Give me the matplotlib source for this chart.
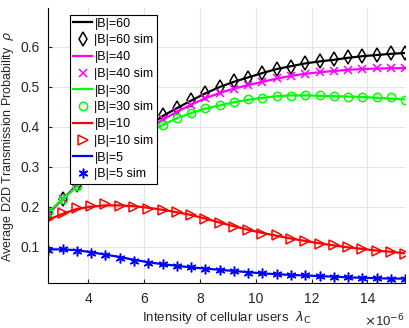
"""
Average D2D transmission probability vs. intensity of cellular users,
analytical curves and simulation markers for several |B|.
"""

import matplotlib
matplotlib.use('Agg')
import matplotlib.pyplot as plt

plt.rcParams['font.family'] = ['Liberation Sans', 'DejaVu Sans']
plt.rcParams['mathtext.fontset'] = 'dejavusans'

TICK_FONT_SIZE = 10
LABEL_FONT_SIZE = 9.5
LEGEND_FONT_SIZE = 9

# Intensity of cellular users (x 1e-6)
lam_c = [2.56, 3.072, 3.584, 4.096, 4.608, 5.12, 5.632, 6.144, 6.656, 7.168,
         7.68, 8.192, 8.704, 9.216, 9.728, 10.24, 10.752, 11.264, 11.776, 12.288,
         12.8, 13.312, 13.824, 14.336, 14.848, 15.36]

# |B| = 60
rho_b60 = [0.183, 0.218, 0.254, 0.287, 0.318, 0.347, 0.375, 0.401, 0.426, 0.446,
           0.465, 0.483, 0.499, 0.512, 0.523, 0.534, 0.544, 0.551, 0.558, 0.563,
           0.567, 0.572, 0.576, 0.579, 0.582, 0.584]
rho_b60_sim = [0.183, 0.219, 0.255, 0.288, 0.319, 0.348, 0.376, 0.402, 0.428, 0.447,
               0.466, 0.484, 0.499, 0.513, 0.522, 0.534, 0.544, 0.550, 0.558, 0.563,
               0.568, 0.573, 0.577, 0.580, 0.583, 0.584]

# |B| = 40
rho_b40 = [0.184, 0.217, 0.252, 0.285, 0.315, 0.343, 0.369, 0.394, 0.417, 0.437,
           0.455, 0.471, 0.484, 0.495, 0.504, 0.512, 0.520, 0.527, 0.532, 0.536,
           0.539, 0.542, 0.544, 0.545, 0.546, 0.546]
rho_b40_sim = [0.184, 0.218, 0.252, 0.285, 0.315, 0.343, 0.369, 0.394, 0.418, 0.437,
               0.455, 0.471, 0.484, 0.495, 0.504, 0.512, 0.521, 0.527, 0.532, 0.537,
               0.539, 0.542, 0.543, 0.546, 0.546, 0.546]

# |B| = 30
rho_b30 = [0.187, 0.218, 0.250, 0.280, 0.308, 0.334, 0.359, 0.382, 0.404, 0.421,
           0.434, 0.445, 0.453, 0.461, 0.467, 0.472, 0.476, 0.478, 0.478, 0.477,
           0.476, 0.475, 0.474, 0.472, 0.470, 0.468]
rho_b30_sim = [0.187, 0.218, 0.251, 0.280, 0.308, 0.334, 0.359, 0.382, 0.404, 0.422,
               0.435, 0.446, 0.454, 0.462, 0.468, 0.471, 0.477, 0.477, 0.479, 0.478,
               0.477, 0.475, 0.475, 0.475, 0.473, 0.466]

# |B| = 10
rho_b10 = [0.167, 0.182, 0.194, 0.200, 0.203, 0.203, 0.201, 0.197, 0.192, 0.186,
           0.179, 0.170, 0.160, 0.151, 0.142, 0.134, 0.127, 0.120, 0.114, 0.108,
           0.103, 0.098, 0.094, 0.090, 0.087, 0.083]
rho_b10_sim = [0.169, 0.183, 0.197, 0.201, 0.206, 0.202, 0.200, 0.195, 0.191, 0.186,
               0.178, 0.169, 0.158, 0.150, 0.141, 0.132, 0.128, 0.119, 0.114, 0.107,
               0.103, 0.099, 0.093, 0.089, 0.086, 0.082]

# |B| = 5
rho_b5 = [0.093, 0.093, 0.091, 0.086, 0.080, 0.074, 0.067, 0.061, 0.056, 0.052,
          0.048, 0.045, 0.042, 0.039, 0.036, 0.033, 0.031, 0.029, 0.028, 0.026,
          0.025, 0.023, 0.022, 0.021, 0.020, 0.020]
rho_b5_sim = [0.092, 0.093, 0.090, 0.083, 0.078, 0.072, 0.065, 0.060, 0.056, 0.052,
              0.049, 0.045, 0.042, 0.039, 0.035, 0.033, 0.031, 0.029, 0.028, 0.026,
              0.025, 0.023, 0.021, 0.021, 0.020, 0.020]

# label, analytic, simulation, colour, marker, marker size
series = [
    ('|B|=60', rho_b60, rho_b60_sim, 'black', 'd', 7),
    ('|B|=40', rho_b40, rho_b40_sim, 'magenta', 'x', 5.5),
    ('|B|=30', rho_b30, rho_b30_sim, 'lime', 'o', 6),
    ('|B|=10', rho_b10, rho_b10_sim, 'red', '>', 6.5),
    ('|B|=5', rho_b5, rho_b5_sim, 'blue', (6, 2, 0), 7),
]

fig = plt.figure(figsize=(4.09, 3.28), dpi=100)
ax = fig.add_axes([0.118, 0.136, 0.873, 0.839])

for label, ana, sim, color, marker, msize in series:
    ax.plot(lam_c, ana, color=color, linewidth=1.6, label=label)
    ax.plot(lam_c, sim, linestyle='none', marker=marker, markersize=msize,
            markerfacecolor='none', markeredgecolor=color, markeredgewidth=1.1,
            label=f'{label} sim')

ax.set_xlim(2.56, 15.36)
ax.set_ylim(0.008, 0.696)
ax.set_xticks([4, 6, 8, 10, 12, 14])
ax.set_yticks([0.1, 0.2, 0.3, 0.4, 0.5, 0.6])
ax.set_xticklabels(['4', '6', '8', '10', '12', '14'])
ax.set_yticklabels(['0.1', '0.2', '0.3', '0.4', '0.5', '0.6'])
ax.tick_params(direction='in', length=3, labelsize=TICK_FONT_SIZE, pad=6,
               colors='#262626')

# MATLAB-like look: box off, light grid
ax.spines['top'].set_visible(False)
ax.spines['right'].set_visible(False)
ax.grid(True, color='#e3e3e3', linewidth=0.8)
ax.set_axisbelow(True)

ax.set_xlabel(r'Intensity of cellular users  $\lambda_{\rm C}$', fontsize=LABEL_FONT_SIZE,
              labelpad=2, color='#262626')
ax.set_ylabel(r'Average D2D Transmission Probability  $\rho$', fontsize=9,
              labelpad=3, color='#262626')
fig.text(405 / 409, 1 - 321 / 328, r'$\times$10$^{-6}$', ha='right', va='center',
         fontsize=LABEL_FONT_SIZE, color='#262626')

leg = ax.legend(loc='upper left', bbox_to_anchor=(0.061, 0.977), borderaxespad=0,
                fontsize=LEGEND_FONT_SIZE, handlelength=1.5, handletextpad=0.2,
                labelspacing=0.38, borderpad=0.25, fancybox=False, framealpha=1,
                edgecolor='black')
leg.get_frame().set_linewidth(0.8)

fig.savefig('out.png', dpi=100)
